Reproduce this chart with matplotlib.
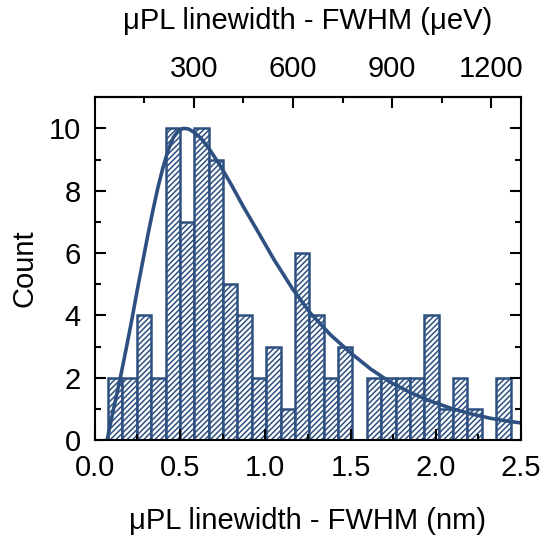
import numpy as np
import matplotlib
matplotlib.use('Agg')
import matplotlib.pyplot as plt

# histogram of linewidths (nm), 28 bins
bin_start = 0.078
bin_width = 0.0843
counts = [2, 2, 4, 2, 10, 7, 10, 9, 5, 4,
          2, 3, 1, 6, 4, 2, 3, 0, 2, 2,
          2, 2, 4, 1, 2, 1, 0, 2]

# fitted curve
fit_x = [0.072, 0.10, 0.13, 0.157, 0.19, 0.22, 0.25, 0.28, 0.31, 0.34, 0.37,
         0.40, 0.43, 0.46, 0.49, 0.52, 0.55, 0.58, 0.62, 0.67, 0.73, 0.80,
         0.87, 0.95, 1.05, 1.16, 1.265, 1.382, 1.5, 1.618, 1.735, 1.853,
         1.97, 2.09, 2.2, 2.32, 2.42, 2.5]
fit_y = [0.0, 0.75, 1.5, 2.2, 3.1, 3.95, 4.85, 5.7, 6.55, 7.35, 8.1,
         8.75, 9.3, 9.7, 9.93, 10.0, 9.98, 9.88, 9.7, 9.35, 8.85, 8.2,
         7.5, 6.75, 5.8, 4.85, 4.07, 3.38, 2.8, 2.28, 1.85, 1.52,
         1.25, 1.02, 0.85, 0.7, 0.61, 0.55]

wavelength = 1550.0  # nm, for nm -> ueV conversion
ueV_per_nm = 1.24e9 / wavelength**2

blue = '#2d5080'
fs = 21
plt.rcParams['font.family'] = ['Liberation Sans', 'DejaVu Sans']
plt.rcParams['hatch.linewidth'] = 1.1
plt.rcParams['hatch.color'] = blue

fig = plt.figure(figsize=(5.45, 5.40), dpi=100)
ax = fig.add_axes([0.174, 0.185, 0.782, 0.635])

lefts = [bin_start + i * bin_width for i in range(len(counts))]
ax.bar(lefts, counts, width=bin_width, align='edge', facecolor='white',
       edgecolor=blue, linewidth=1.8, hatch='//////')
ax.plot(fit_x, fit_y, color=blue, lw=2.6, solid_joinstyle='round')

ax.set_xlim(0, 2.5)
ax.set_ylim(0, 11)
ax.set_xticks([0, 0.5, 1.0, 1.5, 2.0, 2.5])
ax.set_xticklabels(['0.0', '0.5', '1.0', '1.5', '2.0', '2.5'])
ax.set_xticks(np.arange(0.25, 2.5, 0.5), minor=True)
ax.set_yticks([0, 2, 4, 6, 8, 10])
ax.set_yticks([1, 3, 5, 7, 9], minor=True)
ax.tick_params(which='both', direction='in', width=1.5, labelsize=fs,
               top=False, right=True)
ax.tick_params(which='major', length=8, pad=10)
ax.tick_params(which='minor', length=4)
for s in ax.spines.values():
    s.set_linewidth(1.5)

ax.set_xlabel('\u03bcPL linewidth - FWHM (nm)', fontsize=fs, labelpad=18)
ax.set_ylabel('Count', fontsize=fs, labelpad=7)

top = ax.secondary_xaxis('top', functions=(lambda x: x * ueV_per_nm,
                                           lambda e: e / ueV_per_nm))
top.set_xticks([300, 600, 900, 1200])
top.set_xticks([150, 450, 750, 1050], minor=True)
top.tick_params(which='both', direction='in', width=1.5, labelsize=fs)
top.tick_params(which='major', length=8, pad=10)
top.tick_params(which='minor', length=4)
top.spines['top'].set_linewidth(1.5)
top.set_xlabel('\u03bcPL linewidth - FWHM (\u03bceV)', fontsize=fs, labelpad=19)

fig.savefig('out.png', dpi=100)
